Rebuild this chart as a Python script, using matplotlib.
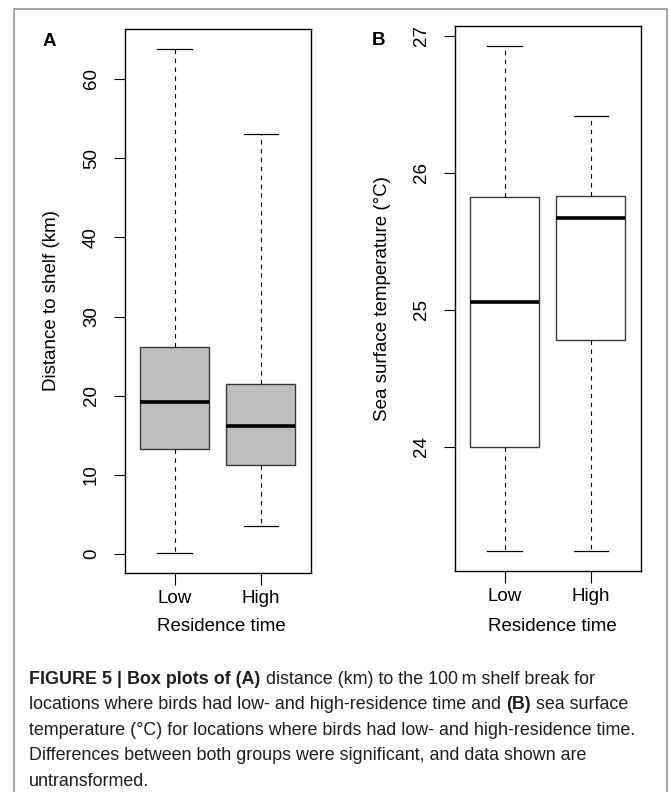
import matplotlib
matplotlib.use('Agg')
import matplotlib.pyplot as plt
from matplotlib.patches import Rectangle

# ---------------- data ----------------
groups = ['Low', 'High']

dist_whislo = [0.17, 3.62]
dist_q1 = [13.24, 11.26]
dist_med = [19.25, 16.14]
dist_q3 = [26.2, 21.5]
dist_whishi = [63.8, 53.0]
dist_ticks = [0, 10, 20, 30, 40, 50, 60]

sst_whislo = [23.24, 23.24]
sst_q1 = [24.0, 24.78]
sst_med = [25.06, 25.67]
sst_q3 = [25.825, 25.83]
sst_whishi = [26.92, 26.41]
sst_ticks = [24, 25, 26, 27]

W, H = 670, 792
FONT = ['Liberation Sans', 'DejaVu Sans']
plt.rcParams['font.family'] = FONT

fig = plt.figure(figsize=(W / 100, H / 100), dpi=100)
fig.patch.set_facecolor('white')


def fx(px):
    return px / W


def fy(py):
    return 1 - py / H


def panel(rect, lo, q1, med, q3, hi, fill, ticks):
    ax = fig.add_axes(rect)
    stats = [dict(whislo=lo[i], q1=q1[i], med=med[i], q3=q3[i], whishi=hi[i],
                  fliers=[], label=g) for i, g in enumerate(groups)]
    ax.bxp(stats, positions=[1, 2], widths=0.8, capwidths=0.4, patch_artist=True,
           showfliers=False,
           boxprops=dict(facecolor=fill, edgecolor='#3a3a3a', linewidth=1.0),
           medianprops=dict(color='black', linewidth=2.6, solid_capstyle='butt'),
           whiskerprops=dict(color='black', linewidth=0.8, linestyle=(0, (4, 4))),
           capprops=dict(color='black', linewidth=0.9))
    ymin, ymax = min(lo), max(hi)
    r = ymax - ymin
    ax.set_ylim(ymin - 0.04 * r, ymax + 0.04 * r)
    ax.set_xlim(0.42, 2.58)
    ax.set_yticks(ticks)
    ax.set_yticklabels([str(t) for t in ticks])
    ax.tick_params(axis='y', labelrotation=90, length=7.7, width=0.8, pad=10,
                   labelsize=13.5, colors='black')
    ax.tick_params(axis='x', length=8.5, width=0.8, pad=3.5, labelsize=13.5)
    for lab in ax.get_yticklabels():
        lab.set_va('center')
    for s in ax.spines.values():
        s.set_linewidth(1.0)
        s.set_color('black')
    return ax


axA = panel([fx(124.7), fy(573), fx(310.7) - fx(124.7), fy(28.7) - fy(573)],
            dist_whislo, dist_q1, dist_med, dist_q3, dist_whishi, '#BEBEBE', dist_ticks)
axB = panel([fx(454.7), fy(571.3), fx(640.7) - fx(454.7), fy(26.3) - fy(571.3)],
            sst_whislo, sst_q1, sst_med, sst_q3, sst_whishi, 'white', sst_ticks)

# axis titles
fig.text(fx(52), fy(301), 'Distance to shelf (km)', rotation=90, ha='center', va='center', fontsize=13.5)
fig.text(fx(382.5), fy(299), 'Sea surface temperature (°C)', rotation=90, ha='center', va='center', fontsize=13.5)
fig.text(fx(221), fy(626.7), 'Residence time', ha='center', va='center', fontsize=13.5)
fig.text(fx(552), fy(626.7), 'Residence time', ha='center', va='center', fontsize=13.5)

# panel letters
fig.text(fx(49.7), fy(41.3), 'A', ha='center', va='center', fontsize=13.5, fontweight='bold')
fig.text(fx(378.8), fy(40.8), 'B', ha='center', va='center', fontsize=13.5, fontweight='bold')

# outer frame
fig.patches.append(Rectangle((fx(14), -0.05), fx(667) - fx(14), fy(9) + 0.05,
                             transform=fig.transFigure, fill=False,
                             edgecolor='#8c8c8c', linewidth=1.1, clip_on=False))

# caption
renderer = fig.canvas.get_renderer()
CAP = 12.9
cap_lines = [
    [('FIGURE 5 | Box plots of (A)', True), (' distance (km) to the 100\u2009m shelf break for', False)],
    [('locations where birds had low- and high-residence time and ', False), ('(B)', True), (' sea surface', False)],
    [('temperature (°C) for locations where birds had low- and high-residence time.', False)],
    [('Differences between both groups were significant, and data shown are', False)],
    [('untransformed.', False)],
]
base_y = [684.0, 709.2, 734.6, 759.7, 785.6]
for pieces, by in zip(cap_lines, base_y):
    x = 29.3
    for txt, bold in pieces:
        t = fig.text(fx(x), fy(by), txt, fontsize=CAP, ha='left', va='baseline',
                     fontweight='bold' if bold else 'normal', color='#1e1e1e')
        bb = t.get_window_extent(renderer=renderer)
        x += bb.width

fig.savefig('out.png', dpi=100, facecolor='white')
